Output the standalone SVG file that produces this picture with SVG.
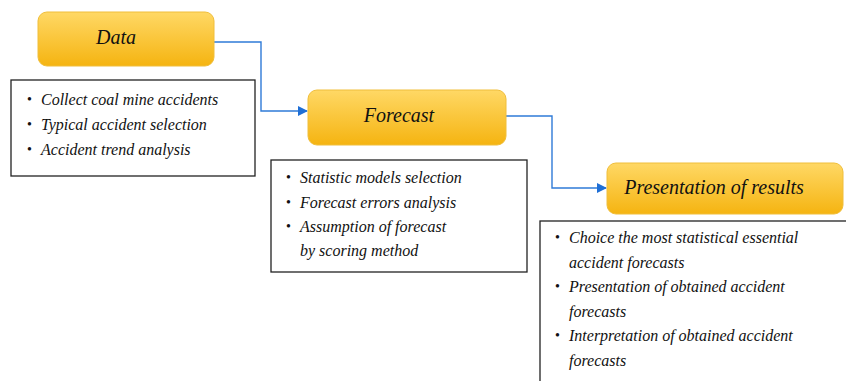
<svg xmlns="http://www.w3.org/2000/svg" width="846" height="381" viewBox="0 0 846 381">
<style>
.hdr{fill:url(#g);stroke:#F0BE3A;stroke-width:1}
.lst{fill:#fff;stroke:#222;stroke-width:1.3}
.t{font-family:"Liberation Serif","DejaVu Serif",serif;font-style:italic;fill:#111}
.h{font-size:20px}
.b{font-size:16px}
.d{font-family:"Liberation Serif",serif;font-size:14px;fill:#111}
.c{fill:none;stroke:#2F7BD8;stroke-width:1.4}
</style>
<defs>
<linearGradient id="g" x1="0" y1="0" x2="0" y2="1">
<stop offset="0" stop-color="#FFD865"/>
<stop offset="1" stop-color="#F5B411"/>
</linearGradient>
<marker id="a" viewBox="0 0 10 10" refX="9" refY="5" markerWidth="10" markerHeight="10" markerUnits="userSpaceOnUse" orient="auto">
<path d="M0,0 L10,5 L0,10 z" fill="#1F6FD6"/>
</marker>
</defs>
<rect width="846" height="381" fill="#fff"/>
<g id="connectors">
<path class="c" d="M214,42 H261 V111 H307" marker-end="url(#a)"/>
<path class="c" d="M506,116 H552 V188 H606" marker-end="url(#a)"/>
</g>
<g id="data">
<rect class="hdr" x="38" y="12" width="176" height="54" rx="9"/>
<text class="t h" x="116" y="44" text-anchor="middle">Data</text>
</g>
<g id="data-list">
<rect class="lst" x="11" y="80" width="244" height="96"/>
<g class="d"><text x="27" y="104">•</text><text x="27" y="129">•</text><text x="27" y="154">•</text></g>
<g class="t b">
<text x="41" y="105">Collect coal mine accidents</text>
<text x="41" y="130">Typical accident selection</text>
<text x="41" y="155">Accident trend analysis</text>
</g>
</g>
<g id="forecast">
<rect class="hdr" x="308" y="90" width="198" height="55" rx="9"/>
<text class="t h" x="399" y="122" text-anchor="middle">Forecast</text>
</g>
<g id="forecast-list">
<rect class="lst" x="271" y="160" width="256" height="112"/>
<g class="d"><text x="286" y="182">•</text><text x="286" y="207">•</text><text x="286" y="231">•</text></g>
<g class="t b">
<text x="300" y="183">Statistic models selection</text>
<text x="300" y="208">Forecast errors analysis</text>
<text x="300" y="232">Assumption of forecast</text>
<text x="300" y="256">by scoring method</text>
</g>
</g>
<g id="results">
<rect class="hdr" x="607" y="163" width="236" height="51" rx="9"/>
<text class="t h" x="714" y="194" text-anchor="middle">Presentation of results</text>
</g>
<g id="results-list">
<rect class="lst" x="540" y="221" width="320" height="170"/>
<g class="d"><text x="555" y="242">•</text><text x="555" y="291">•</text><text x="555" y="340">•</text></g>
<g class="t b">
<text x="569" y="243">Choice the most statistical essential</text>
<text x="569" y="268">accident forecasts</text>
<text x="569" y="292">Presentation of obtained accident</text>
<text x="569" y="317">forecasts</text>
<text x="569" y="341">Interpretation of obtained accident</text>
<text x="569" y="366">forecasts</text>
</g>
</g>
</svg>
